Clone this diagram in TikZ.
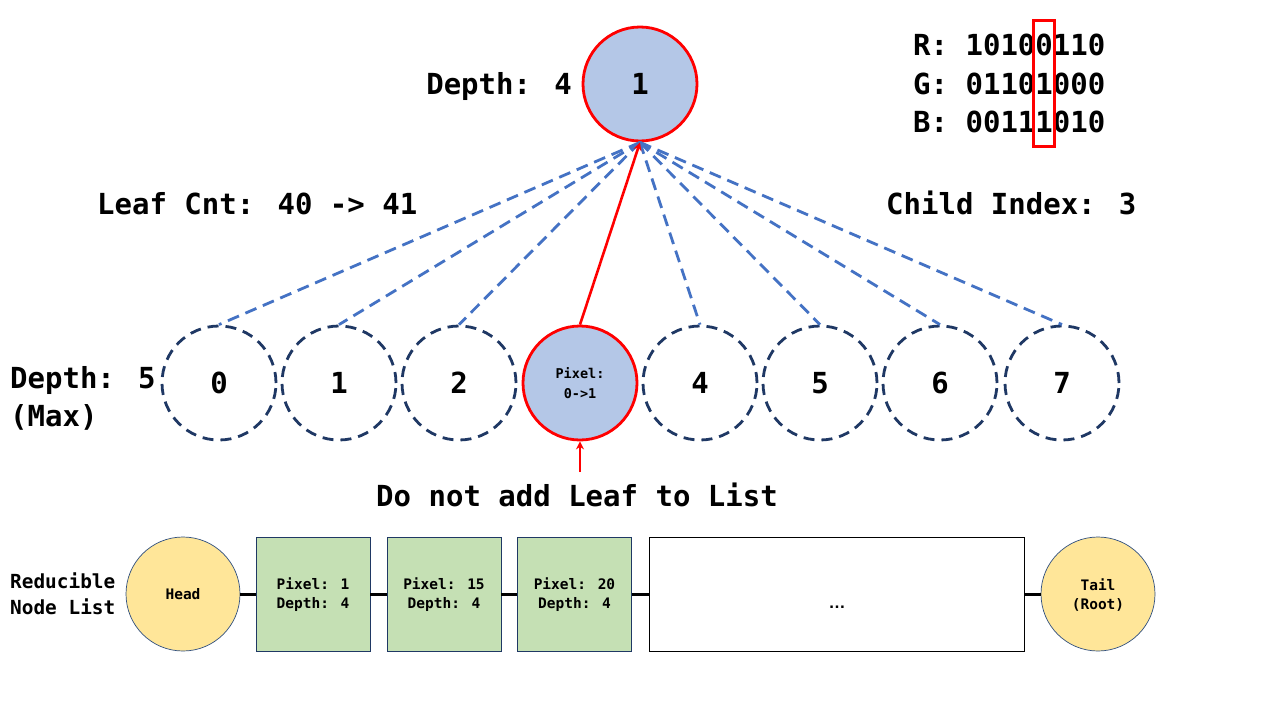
\documentclass[tikz,border=0pt]{standalone}
\usepackage{fontspec}
\newfontfamily\monob{DejaVu Sans Mono}[BoldFont={DejaVu Sans Mono Bold}]
\newfontfamily\plainsans{Liberation Sans}
\usetikzlibrary{arrows.meta}
\definecolor{nodeblue}{HTML}{B4C7E7}
\definecolor{edgeblue}{HTML}{4472C4}
\definecolor{navy}{HTML}{1F3864}
\definecolor{listyellow}{HTML}{FFE699}
\definecolor{listgreen}{HTML}{C5E0B4}
\definecolor{ringgray}{HTML}{2F4F7F}
\tikzset{
  big/.style={font=\monob\bfseries\fontsize{29}{38}\selectfont, inner sep=0pt, text height=21pt, text depth=0pt},
  bigml/.style={font=\monob\bfseries\fontsize{29}{38}\selectfont, inner sep=0pt, align=left},
  mid/.style={font=\monob\bfseries\fontsize{19.4}{26}\selectfont, inner sep=0pt, align=left},
  small/.style={font=\monob\bfseries\fontsize{14.5}{19}\selectfont, inner sep=0pt, align=center},
  tiny/.style={font=\monob\bfseries\fontsize{13.5}{20}\selectfont, inner sep=0pt, align=center},
  parent/.style={circle, minimum size=114pt, inner sep=0pt, fill=nodeblue, draw=red, line width=2.8pt},
  child/.style={circle, minimum size=114pt, inner sep=0pt, draw=navy, line width=2.8pt, dash pattern=on 11pt off 7pt},
  hit/.style={circle, minimum size=114pt, inner sep=0pt, fill=nodeblue, draw=red, line width=2.8pt},
  edge/.style={draw=edgeblue, line width=2.8pt, dash pattern=on 12pt off 7pt},
  hitedge/.style={draw=red, line width=2.6pt, -{Stealth[length=8pt,width=8pt]}},
  endcap/.style={circle, minimum size=114pt, inner sep=0pt, fill=listyellow, draw=ringgray, line width=0.7pt},
  entry/.style={rectangle, minimum width=114pt, minimum height=114pt, inner sep=0pt, fill=listgreen, draw=navy, line width=0.8pt},
  link/.style={draw=black, line width=3pt},
}
\begin{document}
\begin{tikzpicture}[x=1pt,y=-1pt]
\useasboundingbox[fill=white] (0,0) rectangle (1280,720);

% parent node at depth 4
\node[parent] (top) at (640,84) {};
\node[big] (topnum) at (640,84) {1};
\node[big, anchor=east] (dep4) at (572,84) {Depth: 4};

% colour bits with the selected column
\node[big, anchor=west] (rbits) at (913,45) {R: 10100110};
\node[big, anchor=west] (gbits) at (913,84) {G: 01101000};
\node[big, anchor=west] (bbits) at (913,122) {B: 00111010};
\draw[red, line width=2.6pt] (1033.5,20.5) rectangle (1054.5,146.5);

\node[big, anchor=west] (leafcnt) at (97,204) {Leaf Cnt: 40 -> 41};
\node[big, anchor=west] (childidx) at (886,204) {Child Index: 3};

% children at depth 5
\node[child] (c0) at (219,383) {};
\node[child] (c1) at (339,383) {};
\node[child] (c2) at (459,383) {};
\node[hit]   (c3) at (580,383) {};
\node[child] (c4) at (700,383) {};
\node[child] (c5) at (820,383) {};
\node[child] (c6) at (940,383) {};
\node[child] (c7) at (1062,383) {};
\node[big] (l0) at (219,383) {0};
\node[big] (l1) at (339,383) {1};
\node[big] (l2) at (459,383) {2};
\node[tiny] (l3) at (580,383) {Pixel:\\0->1};
\node[big] (l4) at (700,383) {4};
\node[big] (l5) at (820,383) {5};
\node[big] (l6) at (940,383) {6};
\node[big] (l7) at (1062,383) {7};

\node[bigml, anchor=north west] (dep5) at (10,366) {Depth: 5\\(Max)};

% edges to the parent
\foreach \c in {c0,c1,c2,c4,c5,c6,c7}
  \draw[edge] (top.south) -- (\c.north);
\draw[hitedge] (c3.north) -- (top.south);

% note below the leaf
\coordinate (notept) at (580,472);
\draw[hitedge] (notept) -- (c3.south);
\node[big] (note) at (577,496) {Do not add Leaf to List};

% reducible node list
\node[mid, anchor=west] (listlbl) at (10,594) {Reducible\\Node List};
\node[endcap] (head) at (183,594) {};
\node[small] (headtxt) at (183,594) {Head};
\node[entry] (e1) at (313,594) {};
\node[entry] (e2) at (444,594) {};
\node[entry] (e3) at (574.5,594) {};
\node[rectangle, minimum width=375pt, minimum height=114pt, inner sep=0pt, draw=black, line width=0.9pt] (rest) at (836.5,594) {};
\node[endcap] (tail) at (1098,594) {};
\node[small] (e1t) at (313,595) {Pixel: 1\\Depth: 4};
\node[small] (e2t) at (444,595) {Pixel: 15\\Depth: 4};
\node[small] (e3t) at (574.5,595) {Pixel: 20\\Depth: 4};
\node[small] (tailt) at (1098,595) {Tail\\(Root)};
\node[font=\plainsans\bfseries\fontsize{17}{19}\selectfont, inner sep=0pt, anchor=base] (dots) at (837,608) {…};

\draw[link] (head.east) -- (e1.west);
\draw[link] (e1.east) -- (e2.west);
\draw[link] (e2.east) -- (e3.west);
\draw[link] (e3.east) -- (rest.west);
\draw[link] (rest.east) -- (tail.west);
\end{tikzpicture}
\end{document}
